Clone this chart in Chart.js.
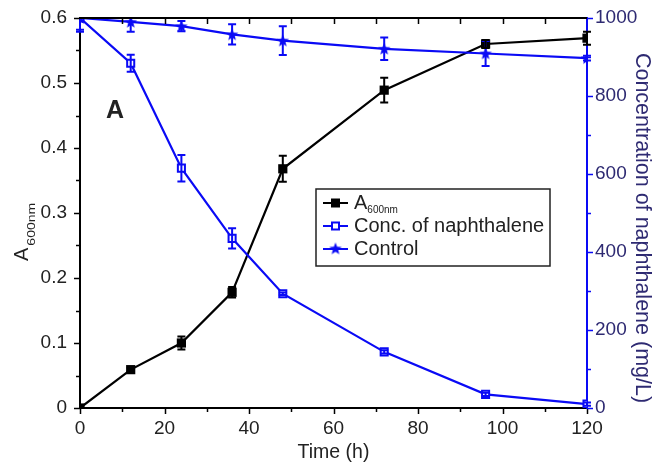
<!DOCTYPE html>
<html>
<head>
<meta charset="utf-8">
<script src="https://cdn.jsdelivr.net/npm/chart.js@4.4.1/dist/chart.umd.min.js"></script>
<style>
  html, body { margin: 0; padding: 0; background: #fff; }
  #wrap { width: 655px; height: 463px; position: relative; }
</style>
</head>
<body>
<div id="wrap"><canvas id="chart" width="655" height="463"></canvas></div>
<script>
// data
var times = [0, 12, 24, 36, 48, 72, 96, 120];
var a600 = [0, 0.059, 0.100, 0.178, 0.368, 0.489, 0.560, 0.569];
var a600Err = [0, 0.003, 0.010, 0.008, 0.020, 0.019, 0.006, 0.010];
var naphthalene = [1000, 884, 615, 435, 293, 144, 35, 10];
var naphthaleneErr = [30, 22, 34, 26, 3, 4, 4, 4];
var control = [1000, 990, 979, 958, 942, 921, 909, 897];
var controlErr = [35, 25, 13, 26, 37, 29, 32, 6];

var xTicks = [0, 20, 40, 60, 80, 100, 120];
var yTicks = [0, 0.1, 0.2, 0.3, 0.4, 0.5, 0.6];
var y2Ticks = [0, 200, 400, 600, 800, 1000];

var BLUE = "#0a0af5";
var NAVY = "#2e2a72";
var FONT = "'Liberation Sans', Arial, sans-serif";

// small filled star for the control series
function makeStar(){
    var c = document.createElement("canvas");
    c.width = 14; c.height = 14;
    var g = c.getContext("2d");
    g.fillStyle = BLUE;
    g.beginPath();
    for (var i = 0; i < 10; i++){
        var r = i % 2 === 0 ? 6.5 : 2.8;
        var a = -Math.PI / 2 + i * Math.PI / 5;
        g.lineTo(7 + r * Math.cos(a), 7.5 + r * Math.sin(a));
    }
    g.closePath();
    g.fill();
    return c;
}
var starImg = makeStar();

function pts(ys){
    return times.map(function(t, i){ return {x: t, y: ys[i]}; });
}

// y axes: fixed width, and no extra top/bottom padding from the edge labels
function fitY(width){
    return function(s){
        s.width = width;
        s.paddingTop = 0;
        s.paddingBottom = 0;
    };
}

var errorBars = {
    id: "errorBars",
    afterDatasetsDraw: function(chart){
        var ctx = chart.ctx, area = chart.chartArea;
        ctx.save();
        ctx.beginPath();
        ctx.rect(area.left - 10, area.top, area.right - area.left + 20, area.bottom - area.top);
        ctx.clip();
        chart.data.datasets.forEach(function(ds){
            var xs = chart.scales.x, ys = chart.scales[ds.yAxisID];
            ctx.strokeStyle = ds.borderColor;
            ctx.lineWidth = 2;
            ds.data.forEach(function(p, i){
                var e = ds.errors[i];
                if (!e) return;
                var px = xs.getPixelForValue(p.x);
                var top = ys.getPixelForValue(p.y + e);
                var bot = ys.getPixelForValue(p.y - e);
                ctx.beginPath();
                ctx.moveTo(px, top); ctx.lineTo(px, bot);
                ctx.moveTo(px - 4, top); ctx.lineTo(px + 4, top);
                ctx.moveTo(px - 4, bot); ctx.lineTo(px + 4, bot);
                ctx.stroke();
            });
        });
        ctx.restore();
    }
};

function drawMarker(ctx, kind, x, y){
    if (kind === "filled"){
        ctx.fillStyle = "#000";
        ctx.fillRect(x - 4.5, y - 4.5, 9, 9);
    } else if (kind === "open"){
        ctx.fillStyle = "#fff";
        ctx.strokeStyle = BLUE;
        ctx.lineWidth = 2;
        ctx.fillRect(x - 3.5, y - 3.5, 7, 7);
        ctx.strokeRect(x - 3.5, y - 3.5, 7, 7);
    } else {
        ctx.drawImage(starImg, x - 7, y - 7.5);
    }
}

var decorations = {
    id: "decorations",
    afterDraw: function(chart){
        var ctx = chart.ctx, area = chart.chartArea;
        var xs = chart.scales.x, ys = chart.scales.y, y2 = chart.scales.y2;
        ctx.save();

        // top frame line
        ctx.strokeStyle = "#000";
        ctx.lineWidth = 2;
        ctx.beginPath();
        ctx.moveTo(area.left - 1, area.top); ctx.lineTo(area.right, area.top);
        ctx.stroke();

        // tick marks
        ctx.lineWidth = 1.5;
        var v;
        for (v = 0; v <= 120; v += 10){
            var px = Math.round(xs.getPixelForValue(v)) + 0.5;
            var major = v % 20 === 0;
            ctx.beginPath();
            ctx.moveTo(px, area.bottom); ctx.lineTo(px, area.bottom + (major ? 6 : 4));
            if (v > 0 && v < 120){
                ctx.moveTo(px, area.top); ctx.lineTo(px, area.top + 6);
            }
            ctx.stroke();
        }
        for (v = 0; v <= 12; v++){
            var py = Math.round(ys.getPixelForValue(v * 0.05)) + 0.5;
            ctx.beginPath();
            ctx.moveTo(area.left, py); ctx.lineTo(area.left - (v % 2 === 0 ? 6 : 4), py);
            ctx.stroke();
        }
        ctx.strokeStyle = BLUE;
        for (v = 0; v <= 1000; v += 100){
            var qy = Math.round(y2.getPixelForValue(v)) + 0.5;
            ctx.beginPath();
            ctx.moveTo(area.right, qy); ctx.lineTo(area.right + (v % 200 === 0 ? 6 : 4), qy);
            ctx.stroke();
        }

        // axis titles
        ctx.fillStyle = "#222";
        ctx.font = "19.5px " + FONT;
        ctx.textAlign = "center";
        ctx.textBaseline = "middle";
        ctx.fillText("Time (h)", (area.left + area.right) / 2, 453);

        ctx.save();
        ctx.translate(28, 261);
        ctx.rotate(-Math.PI / 2);
        ctx.textAlign = "left";
        ctx.textBaseline = "alphabetic";
        ctx.font = "20px " + FONT;
        ctx.fillText("A", 0, 0);
        var aw = ctx.measureText("A").width;
        ctx.translate(aw + 2, 7);
        ctx.scale(1.4, 1);
        ctx.font = "10px " + FONT;
        ctx.fillText("600nm", 0, 0);
        ctx.restore();

        ctx.save();
        ctx.fillStyle = NAVY;
        ctx.translate(642, 228);
        ctx.rotate(Math.PI / 2);
        ctx.font = "21.5px " + FONT;
        ctx.textAlign = "center";
        ctx.textBaseline = "middle";
        ctx.fillText("Concentration of naphthalene (mg/L)", 0, 0);
        ctx.restore();

        // panel letter
        ctx.fillStyle = "#222";
        ctx.font = "bold 25px " + FONT;
        ctx.textAlign = "left";
        ctx.textBaseline = "alphabetic";
        ctx.fillText("A", 106, 118);

        // legend box
        ctx.fillStyle = "#fff";
        ctx.fillRect(316, 189, 234, 77);
        ctx.strokeStyle = "#222";
        ctx.lineWidth = 1.5;
        ctx.strokeRect(316, 189, 234, 77);
        var rows = [
            {label: "A", sub: "600nm", color: "#000", kind: "filled", y: 203},
            {label: "Conc. of naphthalene", color: BLUE, kind: "open", y: 226},
            {label: "Control", color: BLUE, kind: "star", y: 249}
        ];
        rows.forEach(function(r){
            ctx.strokeStyle = r.color;
            ctx.lineWidth = 2;
            ctx.beginPath();
            ctx.moveTo(323, r.y); ctx.lineTo(348, r.y);
            ctx.stroke();
            drawMarker(ctx, r.kind, 335.5, r.y);
            ctx.fillStyle = "#222";
            ctx.font = "20px " + FONT;
            ctx.textBaseline = "middle";
            ctx.fillText(r.label, 354, r.y);
            if (r.sub){
                var w = ctx.measureText(r.label).width;
                ctx.font = "10px " + FONT;
                ctx.fillText(r.sub, 354 + w, r.y + 7);
            }
        });
        ctx.restore();
    }
};

new Chart(document.getElementById("chart"), {
    type: "line",
    data: {
        datasets: [
            {
                label: "Control",
                data: pts(control),
                errors: controlErr,
                yAxisID: "y2",
                borderColor: BLUE,
                borderWidth: 2.2,
                pointStyle: starImg,
                pointRadius: 6,
                tension: 0
            },
            {
                label: "Conc. of naphthalene",
                data: pts(naphthalene),
                errors: naphthaleneErr,
                yAxisID: "y2",
                borderColor: BLUE,
                backgroundColor: "#fff",
                borderWidth: 2.2,
                pointStyle: "rect",
                pointRadius: 5,
                pointBorderWidth: 2,
                tension: 0
            },
            {
                label: "A600nm",
                data: pts(a600),
                errors: a600Err,
                yAxisID: "y",
                borderColor: "#000",
                backgroundColor: "#000",
                borderWidth: 2.2,
                pointStyle: "rect",
                pointRadius: 6.5,
                pointBorderWidth: 0,
                tension: 0
            }
        ]
    },
    options: {
        responsive: false,
        animation: false,
        layout: { padding: { top: 18, left: 0, right: 0, bottom: 0 } },
        plugins: { legend: { display: false }, tooltip: { enabled: false } },
        scales: {
            x: {
                type: "linear",
                min: 0, max: 120,
                afterBuildTicks: function(s){ s.ticks = xTicks.map(function(v){ return {value: v}; }); },
                afterFit: function(s){ s.height = 55; },
                ticks: {
                    color: "#222", font: { size: 19, family: FONT }, padding: 9, maxRotation: 0,
                    callback: function(v){ return String(v); }
                },
                grid: { display: false, drawTicks: false },
                border: { color: "#000", width: 2 }
            },
            y: {
                position: "left",
                min: 0, max: 0.6,
                afterBuildTicks: function(s){ s.ticks = yTicks.map(function(v){ return {value: v}; }); },
                afterFit: fitY(80),
                ticks: {
                    color: "#222", font: { size: 19, family: FONT }, padding: 13,
                    callback: function(v){ return v === 0 ? "0" : v.toFixed(1); }
                },
                grid: { display: false, drawTicks: false },
                border: { color: "#000", width: 2 }
            },
            y2: {
                position: "right",
                min: 0, max: 1000,
                afterBuildTicks: function(s){ s.ticks = y2Ticks.map(function(v){ return {value: v}; }); },
                afterFit: fitY(68),
                ticks: {
                    color: NAVY, font: { size: 19, family: FONT }, padding: 8,
                    callback: function(v){ return String(v); }
                },
                grid: { display: false, drawTicks: false },
                border: { color: BLUE, width: 2 }
            }
        }
    },
    plugins: [errorBars, decorations]
});
</script>
</body>
</html>
